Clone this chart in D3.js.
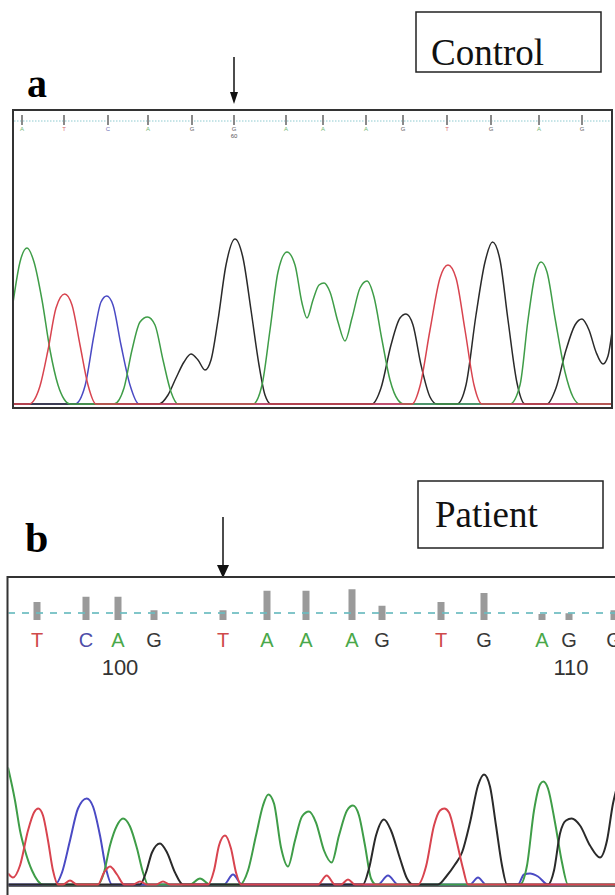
<!DOCTYPE html>
<html>
<head>
<meta charset="utf-8">
<script src="https://cdn.jsdelivr.net/npm/d3@7/dist/d3.min.js"></script>
<style>
  body { margin: 0; background: #fff; }
  svg { display: block; }
</style>
</head>
<body>
<svg id="fig" width="615" height="895"></svg>
<script>
// --- control (a) ---
var basesA = ["A","T","C","A","G","G","A","A","A","G","T","G","A","G"],
    callScanA = [9, 51, 95, 135, 179, 221, 273, 310, 353, 390, 434, 478, 526, 569],
    posLabelsA = ["60"], posIndexA = [5],
    arrowIndexA = 5;

// traces: [scan, intensity]
var ctrlA = [[0,606],[7,852],[14,936],[21,852],[29,624],[37,324],[45,114],[51,30],[57,0],[101,0],
  [111,96],[119,324],[127,492],[134.5,522],[142,474],[150,264],[158,72],[165,0],[240,0],
  [249,114],[257,444],[265,792],[274,912],[282,834],[289,606],[294,516],[300,624],[306,714],[311,726],
  [317,672],[325,492],[332,378],[339,516],[347,696],[354,738],[361,642],[369,384],[377,144],[385,24],[391,0],
  [497,0],[507,114],[515,504],[522,774],[528,852],[534,792],[542,516],[552,192],[560,42],[567,0],[600,0]];
var ctrlT = [[0,0],[16,0],[27,108],[35,324],[43,576],[51.7,660],[59,594],[67,354],[75,114],[83,0],
  [399,0],[407,108],[417,444],[427,756],[435,834],[443,756],[452,444],[461,114],[469,0],[600,0]];
var ctrlC = [[0,0],[62,0],[72,108],[81,414],[88,612],[93.7,648],[100,594],[108,354],[117,114],[126,0],[600,0]];
var ctrlG = [[0,0],[146,0],[155,54],[163,156],[171,252],[178,300],[185,264],[192,204],[198,264],[205,504],
  [213,834],[222,990],[230,876],[238,564],[246,234],[252,54],[258,0],[359,0],[368,96],[378,354],[387,516],
  [393,540],[400,474],[408,234],[417,42],[424,0],[444,0],[453,114],[463,534],[472,852],[479.5,972],[487,864],
  [495,504],[504,126],[512,0],[534,0],[543,96],[553,324],[562,474],[569,510],[576,444],[583,312],[590,240],
  [595,288],[599,432]];

// --- patient (b) ---
var basesB = ["T","C","A","G","T","A","A","A","G","T","G","A","G","G"],
    callScanB = [29, 78, 110, 146, 215, 259, 298, 344, 374, 433, 476, 534, 561, 606],
    qualB = [24, 31, 31, 13, 13, 39, 39, 41, 19, 24, 36, 8, 9, 13],
    posLabelsB = ["100", "110"], posIndexB = [2, 12],
    arrowIndexB = 4;

var patA = [[0,702],[7,504],[12,324],[17,204],[24,84],[35,0],[90,0],[96,72],[102,234],[109,354],[115,396],
  [122,348],[129,216],[135,72],[140,0],[182,0],[192,36],[202,0],[232,0],[240,84],[248,294],[255,474],
  [260.3,540],[266,486],[273,222],[280,108],[287,264],[294,408],[301,438],[308,372],[316,204],[323.7,132],
  [331,294],[339,444],[345,474],[351,414],[357,234],[363,36],[368,0],[512,0],[519,114],[526,444],[532,600],
  [535.3,618],[540,576],[547,372],[554,132],[560,0],[610,0]];
var patT = [[0,66],[5,42],[12,114],[20,324],[26,432],[30.3,456],[35,414],[40,264],[45,84],[50,0],
  [55,0],[62,24],[69,0],[90,0],[96,72],[102,108],[109,60],[116,0],[125,0],[132,18],[139,0],[148,0],[155,18],[162,0],
  [200,0],[206,84],[211,234],[217,294],[223,216],[228,72],[233,0],[310,0],[318.7,54],[327,0],[333,0],[340,30],[347,0],
  [410,0],[418,108],[426,354],[432,444],[436.3,456],[441,432],[448,276],[455,96],[460,0],[610,0]];
var patC = [[0,0],[47,0],[54,72],[62,264],[70,456],[78.7,516],[85,468],[92,294],[98,96],[104,0],
  [216,0],[225,60],[234,0],[370,0],[380,54],[390,0],[462,0],[470,42],[478,0],
  [510,0],[516,60],[522,66],[530,48],[540,0],[610,0]];
var patG = [[0,0],[132,0],[138,72],[144,192],[152,246],[159,192],[167,72],[175,0],[355,0],[361,96],[368,294],
  [376,390],[383,324],[392,156],[399,36],[405,0],[430,0],[439,54],[447,120],[454,192],[462,372],[470,594],
  [476,660],[482,588],[488,354],[494,114],[499,0],[540,0],[546,84],[552,306],[558,384],[563.7,396],[572,354],
  [582,234],[592,162],[599,264],[605,486],[608,564]];

var baseColor = {A: "#3f9d48", C: "#4a4ac4", G: "#2a2a2a", T: "#d8444f"},
    letterColor = {A: "#4aa84a", C: "#4d4da8", G: "#383838", T: "#cf4a4a"};

var svg = d3.select("#fig");
var serif = "'Liberation Serif','Times New Roman',serif",
    sans = "'Liberation Sans',Arial,sans-serif";

// 枠付きのタイトル (Control / Patient)
function titleBox(x, y, w, h, txt, tx, ty) {
    svg.append("rect").attr("x", x).attr("y", y).attr("width", w).attr("height", h)
        .attr("fill", "none").attr("stroke", "#222").attr("stroke-width", 1.5);
    svg.append("text").attr("x", tx).attr("y", ty).text(txt)
        .style("font-family", serif).style("font-size", "37px").attr("fill", "#111");
}

function arrow(x, y0, y1, hw, hh) {
    svg.append("line").attr("x1", x).attr("x2", x).attr("y1", y0).attr("y2", y1 - hh + 1)
        .attr("stroke", "#111").attr("stroke-width", 1.5);
    svg.append("path").attr("d", "M" + (x - hw) + "," + (y1 - hh) + "L" + (x + hw) + "," + (y1 - hh) + "L" + x + "," + y1 + "Z")
        .attr("fill", "#111");
}

function traces(g, list, x, y, w) {
    var line = d3.line().x(function(d){return x(d[0])}).y(function(d){return y(d[1])}).curve(d3.curveMonotoneX);
    list.forEach(function (t) {
        g.append("path").datum(t[0]).attr("d", line)
            .attr("fill", "none").attr("stroke", baseColor[t[1]]).attr("stroke-width", w)
            .attr("stroke-linejoin", "round");
    });
}

/*
 * panel a : control
 */
var xA = d3.scaleLinear().domain([0, 600]).range([13, 613]),
    yA = d3.scaleLinear().domain([0, 990]).range([404, 239]);

svg.append("text").attr("x", 27).attr("y", 97).text("a")
    .style("font-family", serif).style("font-size", "40px").style("font-weight", "bold");
titleBox(416, 12, 185, 60, "Control", 431, 65);
arrow(xA(callScanA[arrowIndexA]), 57, 104, 4, 12);

svg.append("clipPath").attr("id", "clipA").append("rect").attr("x", 14).attr("y", 111).attr("width", 597).attr("height", 296);
var gA = svg.append("g").attr("clip-path", "url(#clipA)");

gA.append("line").attr("x1", 14).attr("x2", 611).attr("y1", 121).attr("y2", 121)
    .attr("stroke", "#8cc9cf").attr("stroke-width", 1).attr("stroke-dasharray", "1.5,1.5");
gA.selectAll(".tickA").data(callScanA).enter().append("rect")
    .attr("x", function(d){return xA(d) - 1}).attr("y", 115).attr("width", 2).attr("height", 10)
    .attr("fill", "#8a8a8a");
gA.selectAll(".baseA").data(basesA).enter().append("text")
    .attr("x", function(d, i){return xA(callScanA[i])}).attr("y", 131)
    .attr("text-anchor", "middle").text(function(d){return d})
    .style("font-family", sans).style("font-size", "6px")
    .attr("fill", function(d){return letterColor[d]}).attr("opacity", 0.8);
gA.selectAll(".posA").data(posLabelsA).enter().append("text")
    .attr("x", function(d, i){return xA(callScanA[posIndexA[i]])}).attr("y", 137.5)
    .attr("text-anchor", "middle").text(function(d){return d})
    .style("font-family", sans).style("font-size", "6px").attr("fill", "#555");

traces(gA, [[ctrlC, "C"], [ctrlG, "G"], [ctrlA, "A"], [ctrlT, "T"]], xA, yA, 1.5);

svg.append("rect").attr("x", 13).attr("y", 110).attr("width", 599).attr("height", 298)
    .attr("fill", "none").attr("stroke", "#333").attr("stroke-width", 2);

/*
 * panel b : patient
 */
var xB = d3.scaleLinear().domain([0, 610]).range([8, 618]),
    yB = d3.scaleLinear().domain([0, 990]).range([884.5, 719.5]),
    qB = d3.scaleLinear().domain([0, 40]).range([0, 30]);

svg.append("text").attr("x", 25).attr("y", 552).text("b")
    .style("font-family", serif).style("font-size", "42px").style("font-weight", "bold");
titleBox(418, 481, 185, 67, "Patient", 435, 527);
arrow(xB(callScanB[arrowIndexB]), 517, 578, 6, 13);

svg.append("clipPath").attr("id", "clipB").append("rect").attr("x", 8.5).attr("y", 578).attr("width", 607).attr("height", 310);
var gB = svg.append("g").attr("clip-path", "url(#clipB)");

gB.selectAll(".qv").data(qualB).enter().append("rect")
    .attr("x", function(d, i){return xB(callScanB[i]) - 3.5}).attr("y", function(d){return 620 - qB(d)})
    .attr("width", 7).attr("height", function(d){return qB(d)})
    .attr("fill", "#9a9a9a");
gB.append("line").attr("x1", 8).attr("x2", 615).attr("y1", 613).attr("y2", 613)
    .attr("stroke", "#6cbcc0").attr("stroke-width", 2).attr("stroke-dasharray", "7,7").attr("opacity", 0.85);
gB.selectAll(".baseB").data(basesB).enter().append("text")
    .attr("x", function(d, i){return xB(callScanB[i])}).attr("y", 647)
    .attr("text-anchor", "middle").text(function(d){return d})
    .style("font-family", sans).style("font-size", "20px")
    .attr("fill", function(d){return letterColor[d]});
gB.selectAll(".posB").data(posLabelsB).enter().append("text")
    .attr("x", function(d, i){return xB(callScanB[posIndexB[i]]) + 2}).attr("y", 675)
    .attr("text-anchor", "middle").text(function(d){return d})
    .style("font-family", sans).style("font-size", "22px").attr("fill", "#333");

gB.append("line").attr("x1", 8).attr("x2", 615).attr("y1", 886).attr("y2", 886)
    .attr("stroke", "#333").attr("stroke-width", 1.5);
traces(gB, [[patC, "C"], [patA, "A"], [patG, "G"], [patT, "T"]], xB, yB, 2);

svg.append("path").attr("d", "M7.5,895V577H615")
    .attr("fill", "none").attr("stroke", "#333").attr("stroke-width", 2);
</script>
</body>
</html>
